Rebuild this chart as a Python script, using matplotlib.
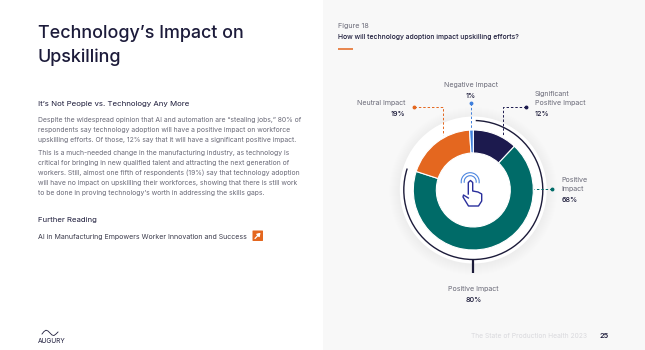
import numpy as np
import matplotlib.pyplot as plt
from matplotlib.patches import Arc, Circle, Rectangle, FancyBboxPatch

plt.rcParams['font.family'] = ['Inter', 'DejaVu Sans']

# data
labels = ["Significant\nPositive Impact", "Positive\nImpact", "Neutral Impact", "Negative Impact"]
values = [12, 68, 19, 1]
colors = ["#1c1a4e", "#006b68", "#e4671f", "#3f7fdc"]
bracket_label = "Positive Impact"
bracket_value = 80

body1 = ["Despite the widespread opinion that AI and automation are \u201cstealing jobs,\u201d 80% of",
         "respondents say technology adoption will have a positive impact on workforce",
         "upskilling efforts. Of those, 12% say that it will have a significant positive impact."]
body2 = ["This is a much-needed change in the manufacturing industry, as technology is",
         "critical for bringing in new qualified talent and attracting the next generation of",
         "workers. Still, almost one fifth of respondents (19%) say that technology adoption",
         "will have no impact on upskilling their workforces, showing that there is still work",
         "to be done in proving technology\u2019s worth in addressing the skills gaps."]

DARK = "#1c1b3a"
GREY = "#6a6a78"
cx, cy = 473.3, 190

fig = plt.figure(figsize=(6.45, 3.5), dpi=100, facecolor="white")
ax = fig.add_axes([0, 0, 1, 1])

# soft shadow and white disc behind the ring
ax.add_patch(Rectangle((323, 0), 322, 350, color="#f8f8f8", lw=0, zorder=0))
for r in np.arange(84, 73, -1.0):
    ax.add_patch(Circle((cx, cy + 1), r, color="#000000", alpha=0.0025, lw=0, zorder=1))
ax.add_patch(Circle((cx, cy), 73.5, color="white", lw=0, zorder=2))

# y axis is inverted, so counterclock reads clockwise on screen
wedges, _ = ax.pie(values, colors=colors, center=(cx, cy), radius=60, startangle=-90,
                   counterclock=True, wedgeprops=dict(width=23, edgecolor="white", linewidth=0.8, zorder=3))
ax.set_xlim(0, 645)
ax.set_ylim(350, 0)
ax.set_aspect("auto")
ax.axis("off")

# 80% bracket
ax.add_patch(Arc((cx, cy), 139, 139, theta1=-88,
                 theta2=-90 + 3.6 * bracket_value, color=DARK, lw=1.0, zorder=4))
ax.plot([cx, cx], [259, 273], color=DARK, lw=1.6, zorder=4, solid_capstyle="butt")

# leader lines
def leader(xs, ys, color):
    ax.plot(xs, ys, color=color, lw=0.7, ls=(0, (2.5, 2)), zorder=4)
    ax.plot(xs[0], ys[0], "o", color=color, ms=1.8, zorder=5)

leader([414, 443.3, 443.3], [107.3, 107.3, 135], colors[2])
leader([470.7, 470.7], [103.3, 129], colors[3])
leader([526, 503.3, 503.3], [107.3, 107.3, 135], colors[0])
leader([552, 534.3], [189.3, 189.3], colors[1])

# chart labels
LAB = dict(fontsize=5.1, color=GREY, va="center")
VAL = dict(fontsize=5.2, color=DARK, va="center", fontweight="medium")
ax.text(471, 85, labels[3], ha="center", **LAB)
ax.text(471, 96, f"{values[3]}%", ha="center", **VAL)
ax.text(405.7, 102.7, labels[2], ha="right", **LAB)
ax.text(398, 114, f"{values[2]}%", ha="center", **VAL)
ax.text(535, 94, labels[0].split("\n")[0], ha="left", **LAB)
ax.text(535, 103, labels[0].split("\n")[1], ha="left", **LAB)
ax.text(535, 113.7, f"{values[0]}%", ha="left", **VAL)
ax.text(561.7, 180, labels[1].split("\n")[0], ha="left", **LAB)
ax.text(561.7, 189, labels[1].split("\n")[1], ha="left", **LAB)
ax.text(561.7, 200, f"{values[1]}%", ha="left", **VAL)
ax.text(cx, 289.3, bracket_label, ha="center", **LAB)
ax.text(cx, 300, f"{bracket_value}%", ha="center", **VAL)

# touch icon in the middle
for r in (9, 6):
    ax.add_patch(Arc((470.2, 181.7), 2 * r, 2 * r, theta1=170, theta2=370, color="#4d86e0", lw=0.8, zorder=5))
hand_x = [468.3, 468.3, 470.5, 472.7, 472.7, 478, 481.7, 481.7, 478.5, 468.5, 463, 463.5, 468.3]
hand_y = [194, 182.5, 180.5, 182.5, 191, 192, 194, 201, 206, 206, 197, 195, 198]
ax.plot(hand_x, hand_y, color="#2a2f9c", lw=1.0, zorder=6, solid_joinstyle="round")

# left page text
ax.text(37.5, 34, "Technology\u2019s Impact on", fontsize=12.9, color=DARK, va="center", fontweight="medium")
ax.text(37.5, 57, "Upskilling", fontsize=12.9, color=DARK, va="center", fontweight="medium")
ax.text(37.5, 104, "It\u2019s Not People vs. Technology Any More", fontsize=5.65, color=DARK, va="center")
for i, line in enumerate(body1):
    ax.text(37.5, 120 + i * 10, line, fontsize=4.9, color=GREY, va="center")
for i, line in enumerate(body2):
    ax.text(37.5, 153.5 + i * 9.8, line, fontsize=4.9, color=GREY, va="center")
ax.text(37.5, 220, "Further Reading", fontsize=5.6, color=DARK, va="center")
ax.text(37.5, 236.7, "AI in Manufacturing Empowers Worker Innovation and Success", fontsize=5.05,
        color="#3c3c4c", va="center")

# orange link button
ax.add_patch(FancyBboxPatch((252.5, 230.5), 10.5, 10.5, boxstyle="round,pad=0,rounding_size=0.6",
                            color=colors[2], lw=0, zorder=3))
ax.annotate("", xy=(260.5, 232.8), xytext=(255, 238.5), zorder=4,
            arrowprops=dict(arrowstyle="-|>,head_length=0.18,head_width=0.12", color="white", lw=0.9,
                            shrinkA=0, shrinkB=0))

# right page header
ax.text(337.7, 26, "Figure 18", fontsize=5.2, color=GREY, va="center")
ax.text(337.7, 37, "How will technology adoption impact upskilling efforts?", fontsize=4.9,
        color=DARK, va="center", fontweight="medium")
ax.plot([338, 353], [48.5, 48.5], color=colors[2], lw=1.1, solid_capstyle="butt")

# footer
ax.text(471, 336, "The State of Production Health 2023", fontsize=4.8, color="#d9d9dd", va="center")
ax.text(600, 336, "25", fontsize=5.2, color=DARK, va="center", fontweight="semibold")
ax.text(51.5, 341, "AUGURY", fontsize=4.7, color=DARK, ha="center", va="center")
logo_x = [42, 44, 46, 48, 50, 52, 54, 56, 58]
logo_y = [334, 331.5, 330.2, 331, 333, 335, 335.5, 334, 332]
ax.plot(logo_x, logo_y, color=DARK, lw=0.6)

fig.savefig("out.png", dpi=100)
